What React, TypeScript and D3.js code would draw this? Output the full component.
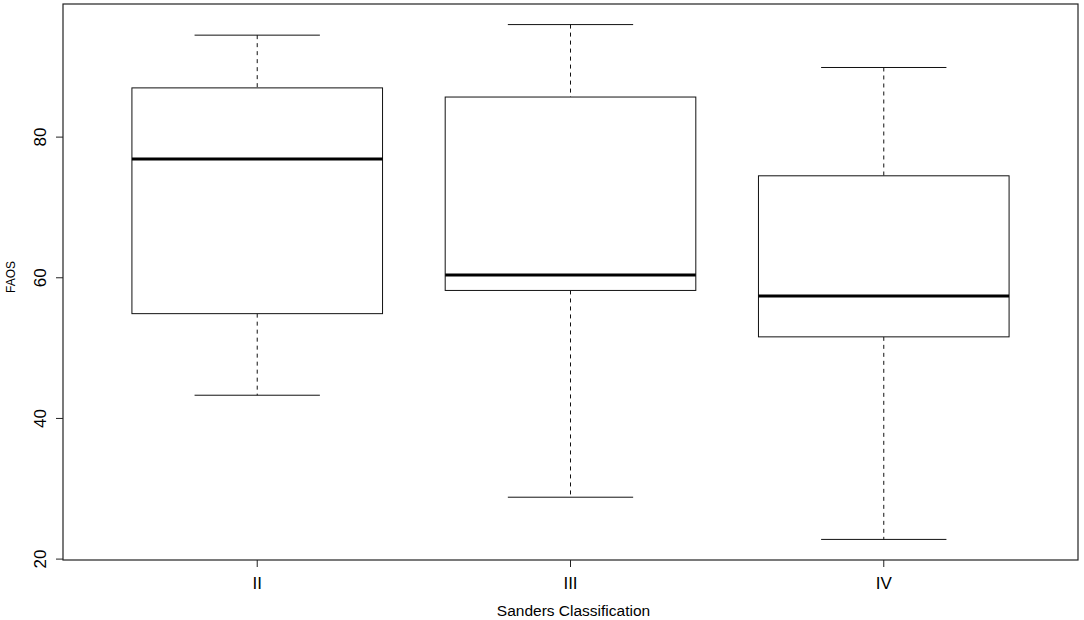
import React from "react";
import * as d3 from "d3";

const categories = ["II", "III", "IV"];
const lowerWhisker = [43.3, 28.8, 22.8];
const q1 = [54.9, 58.2, 51.6];
const median = [76.9, 60.4, 57.4];
const q3 = [87.0, 85.7, 74.5];
const upperWhisker = [94.5, 96.0, 89.9];
const yTicks = [20, 40, 60, 80];

const W = 1084;
const H = 620;
const left = 63;
const right = 1078;
const top = 4;
const bottom = 560;

export default function App() {
  const n = categories.length;
  const xr = [0.5 - 0.04 * n, n + 0.5 + 0.04 * n];
  const x = d3.scaleLinear().domain(xr).range([left, right]);
  const dmin = d3.min(lowerWhisker) as number;
  const dmax = d3.max(upperWhisker) as number;
  const pad = (dmax - dmin) * 0.04;
  const y = d3.scaleLinear().domain([dmin - pad, dmax + pad]).range([bottom, top]);
  const bw = x(0.8) - x(0);
  const font = "Liberation Sans, Arial, sans-serif";

  return (
    <svg width={W} height={H} style={{ position: "absolute", left: 0, top: 0, background: "#fff" }}>
      <rect x={left} y={top} width={right - left} height={bottom - top} fill="none" stroke="#222" strokeWidth={1.2} />
      {categories.map((c, i) => {
        const cx = x(i + 1);
        return (
          <g key={c}>
            <line x1={cx} x2={cx} y1={y(upperWhisker[i])} y2={y(q3[i])} stroke="#111" strokeDasharray="4,4" />
            <line x1={cx} x2={cx} y1={y(q1[i])} y2={y(lowerWhisker[i])} stroke="#111" strokeDasharray="4,4" />
            <line x1={cx - bw / 4} x2={cx + bw / 4} y1={y(upperWhisker[i])} y2={y(upperWhisker[i])} stroke="#111" />
            <line x1={cx - bw / 4} x2={cx + bw / 4} y1={y(lowerWhisker[i])} y2={y(lowerWhisker[i])} stroke="#111" />
            <rect x={cx - bw / 2} y={y(q3[i])} width={bw} height={y(q1[i]) - y(q3[i])} fill="#fff" stroke="#111" />
            <line x1={cx - bw / 2} x2={cx + bw / 2} y1={y(median[i])} y2={y(median[i])} stroke="#000" strokeWidth={3} />
            <line x1={cx} x2={cx} y1={bottom} y2={bottom + 7} stroke="#222" />
            <text x={cx} y={589} textAnchor="middle" fontFamily={font} fontSize={17} fill="#000">{c}</text>
          </g>
        );
      })}
      {yTicks.map((t) => (
        <g key={t}>
          <line x1={left - 7} x2={left} y1={y(t)} y2={y(t)} stroke="#222" />
          <text transform={`translate(46,${y(t)}) rotate(-90)`} textAnchor="middle" fontFamily={font} fontSize={17} fill="#000">{t}</text>
        </g>
      ))}
      <text x={(left + right) / 2 + 3} y={616} textAnchor="middle" fontFamily={font} fontSize={15.5} fill="#000">Sanders Classification</text>
      <text transform={`translate(15,277) rotate(-90)`} textAnchor="middle" fontFamily={font} fontSize={12} fill="#000">FAOS</text>
    </svg>
  );
}
